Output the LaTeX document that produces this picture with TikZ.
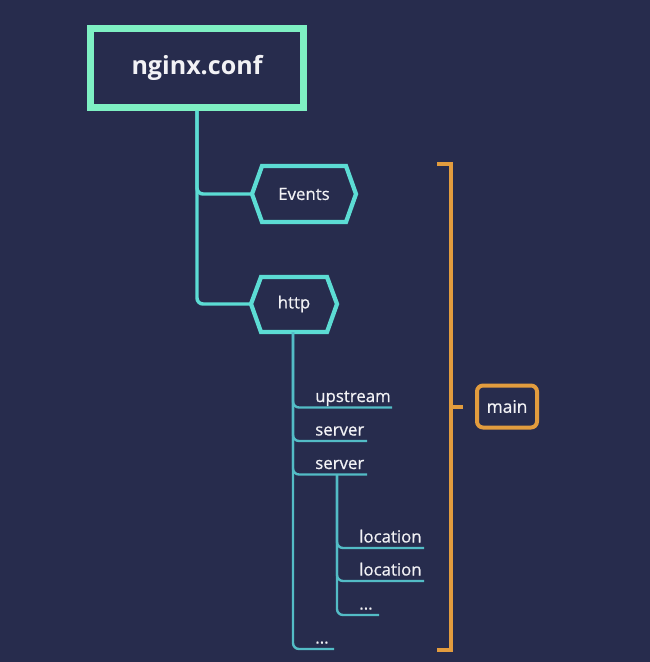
\documentclass[tikz,border=0pt]{standalone}
\usepackage{fontspec}
\setmainfont{Open Sans}
\newfontfamily\medfont[FakeBold=0.6]{Open Sans}
\definecolor{bg}{HTML}{272C4D}
\definecolor{mint}{HTML}{7EF0C3}
\definecolor{teal1}{HTML}{5CDCD4}
\definecolor{teal2}{HTML}{53BCC6}
\definecolor{org}{HTML}{E29C3E}
\definecolor{txt}{HTML}{F2F2F5}
\tikzset{
  lbl/.style={text=txt, font=\medfont\fontsize{12.6}{14}\selectfont, inner sep=0pt},
  tlbl/.style={lbl, anchor=base west},
  hex/.style={draw=teal1, line width=3.2pt, line join=miter},
  trunk/.style={draw=teal1, line width=2.6pt, rounded corners=4.5pt},
  twig/.style={draw=teal2, line width=1.8pt, rounded corners=4.5pt},
  brk/.style={draw=org, line width=2.3pt},
}
\begin{document}
\begin{tikzpicture}[x=0.75pt,y=-0.75pt]
\fill[bg] (0,0) rectangle (650,662);
\useasboundingbox (0,0) rectangle (650,662);

% root
\node[draw=mint, line width=5.25pt, minimum width=159.75pt, minimum height=59.25pt,
      text=txt, font=\fontsize{18.8}{22}\bfseries\selectfont] (root) at (197,67.5) {nginx.conf};

% Events hexagon
\node[lbl] (ev) at (304,194) {Events};
\draw[hex] (252,194) -- (262,166) -- (346,166) -- (356,194) -- (346,222) -- (262,222) -- cycle;
\coordinate (evL) at (252,194);

% http hexagon
\node[lbl] (http) at (294,304) {http};
\draw[hex] (251,304) -- (261,277) -- (327,277) -- (337,304) -- (327,332) -- (261,332) -- cycle;
\coordinate (httpL) at (251,304);
\coordinate (httpB) at (293,332);

% trunk
\draw[trunk] (root.south -| 197,0) |- (evL);
\draw[trunk] (root.south -| 197,0) |- (httpL);

% http children
\coordinate (u1) at (392,407.5);
\coordinate (u2) at (367,441);
\coordinate (u3) at (367,474.5);
\coordinate (u4) at (334,649);
\node[tlbl] (up) at (315,402) {upstream};
\node[tlbl] (s1) at (315,435.5) {server};
\node[tlbl] (s2) at (315,469) {server};
\node[tlbl] (d2) at (315,643.5) {...};
\draw[twig] (httpB) |- (u1);
\draw[twig] (httpB) |- (u2);
\draw[twig] (httpB) |- (u3);
\draw[twig] (httpB) |- (u4);

% server children
\coordinate (sB) at (337,474.5);
\coordinate (l1) at (424,548);
\coordinate (l2) at (424,581);
\coordinate (l3) at (379,615);
\node[tlbl] (loc1) at (359,542.5) {location};
\node[tlbl] (loc2) at (359,575.5) {location};
\node[tlbl] (d1) at (359,609.5) {...};
\draw[twig] (sB) |- (l1);
\draw[twig] (sB) |- (l2);
\draw[twig] (sB) |- (l3);

% bracket
\coordinate (bt) at (437,164);
\coordinate (bb) at (437,650);
\coordinate (bm) at (451,407);
\coordinate (bmE) at (463,407);
\draw[brk] (bt) -| (bm) |- (bb);
\draw[brk] (bm) -- (bmE);
\node[draw=org, line width=3pt, rounded corners=4.5pt, minimum width=45pt, minimum height=31.5pt,
      text=txt, font=\medfont\fontsize{13}{14}\selectfont] (main) at (507,406.5) {main};
\end{tikzpicture}
\end{document}
